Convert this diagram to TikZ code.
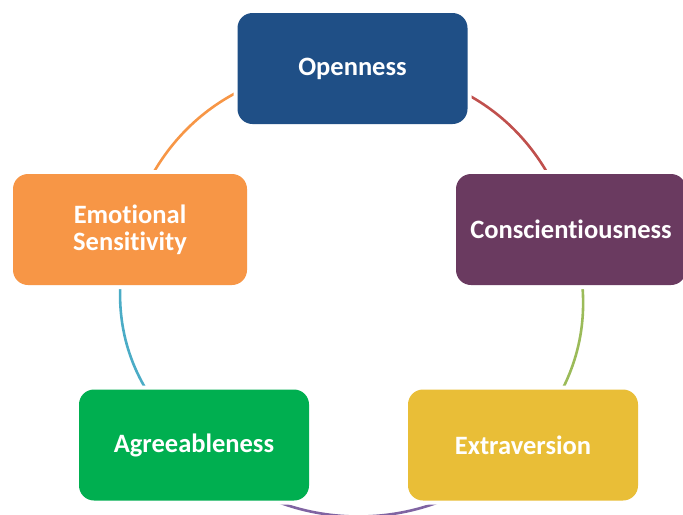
\documentclass[tikz,border=0pt]{standalone}
\usepackage{fontspec}
\setmainfont{Carlito}[Ligatures={NoCommon}]
\usetikzlibrary{backgrounds}

\definecolor{openblue}{HTML}{1F4F86}
\definecolor{conspurple}{HTML}{6A3A60}
\definecolor{extrayellow}{HTML}{E9BE37}
\definecolor{agreegreen}{HTML}{00AF50}
\definecolor{emoorange}{HTML}{F79646}

\begin{document}
\begin{tikzpicture}[x=0.5pt, y=0.5pt,
  trait/.style={rectangle, rounded corners=7.5pt, minimum width=115pt, minimum height=55.5pt,
    text=white, align=center, font=\fontsize{13.25}{13.5}\selectfont\bfseries,
    preaction={draw=white, line width=4pt}},
  ring/.style={line width=1.3pt}]

\useasboundingbox (0,0) rectangle (683,-514);

\node[trait, fill=openblue] (open) at (352.5,-68.5) {Openness};
\node[trait, fill=conspurple] (consc) at (571,-229.5) {Conscientiousness};
\node[trait, fill=extrayellow] (extra) at (523,-445) {Extraversion};
\node[trait, fill=agreegreen] (agree) at (194,-445) {Agreeableness};
\node[trait, fill=emoorange, minimum width=117pt] (emo) at (130,-229.5) {Emotional\\Sensitivity};

% ring behind the boxes
\begin{scope}[on background layer]
\draw[ring, color={rgb,255:red,192;green,80;blue,77}] (open.center) to[bend left=38] (consc.center);
\draw[ring, color={rgb,255:red,155;green,187;blue,89}] (consc.center) to[bend left=30] (extra.center);
\draw[ring, color={rgb,255:red,128;green,100;blue,162}] (extra.center) to[bend left=48] (agree.center);
\draw[ring, color={rgb,255:red,75;green,172;blue,198}] (agree.center) to[bend left=33] (emo.center);
\draw[ring, color={rgb,255:red,247;green,150;blue,70}] (emo.center) to[bend left=39] (open.center);
\end{scope}

\end{tikzpicture}
\end{document}
